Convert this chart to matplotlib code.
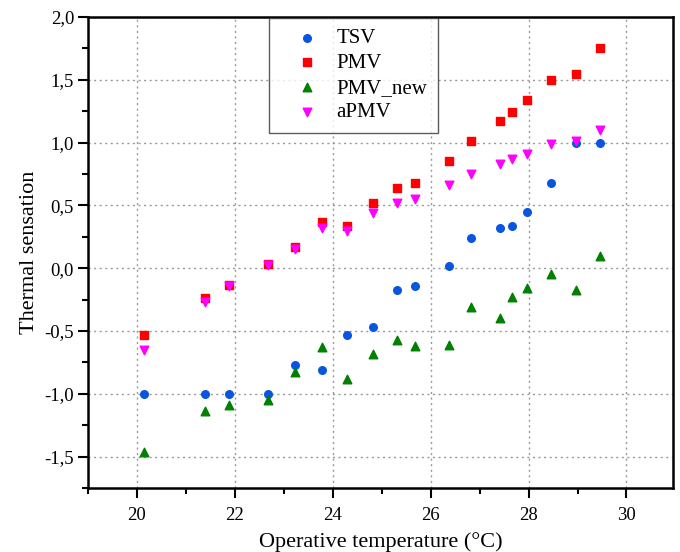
import matplotlib
matplotlib.use("Agg")
import matplotlib.pyplot as plt
from matplotlib.ticker import MultipleLocator, FuncFormatter

plt.rcParams['font.family'] = ['Liberation Serif', 'DejaVu Serif']

# operative temperature (°C) for each measurement group
temp = [20.15, 21.40, 21.88, 22.68, 23.22, 23.78, 24.29, 24.82, 25.32,
        25.67, 26.38, 26.83, 27.42, 27.66, 27.96, 28.46, 28.97, 29.46]

tsv = [-1.00, -1.00, -1.00, -1.00, -0.77, -0.81, -0.53, -0.47, -0.17,
       -0.14, 0.02, 0.24, 0.32, 0.34, 0.45, 0.68, 1.00, 1.00]
pmv = [-0.53, -0.24, -0.13, 0.03, 0.17, 0.37, 0.34, 0.52, 0.64,
       0.68, 0.85, 1.01, 1.17, 1.24, 1.34, 1.50, 1.55, 1.75]
pmv_new = [-1.46, -1.14, -1.09, -1.05, -0.83, -0.63, -0.88, -0.68, -0.57,
           -0.62, -0.61, -0.31, -0.40, -0.23, -0.16, -0.05, -0.17, 0.10]
apmv = [-0.65, -0.27, -0.14, 0.025, 0.15, 0.32, 0.30, 0.44, 0.52,
        0.55, 0.66, 0.75, 0.83, 0.87, 0.91, 0.99, 1.01, 1.10]

fig = plt.figure(figsize=(6.8, 5.52), dpi=100)
ax = fig.add_axes([0.1294, 0.1159, 0.8603, 0.8533])

ax.grid(True, linestyle=(0, (1.5, 2.5)), color='#999999', linewidth=1)
ax.set_axisbelow(True)

ax.scatter(temp, tsv, s=30, marker='o', color='#0a55e0', label='TSV', zorder=3)
ax.scatter(temp, pmv, s=30, marker='s', color='#ff0000', label='PMV', zorder=3)
ax.scatter(temp, pmv_new, s=38, marker='^', color='#008000', label='PMV_new', zorder=3)
ax.scatter(temp, apmv, s=38, marker='v', color='#ff00ff', label='aPMV', zorder=3)

ax.set_xlim(19.0, 30.95)
ax.set_ylim(-1.75, 2.0)
ax.xaxis.set_major_locator(MultipleLocator(2))
ax.xaxis.set_minor_locator(MultipleLocator(1))
ax.yaxis.set_major_locator(MultipleLocator(0.5))
ax.yaxis.set_minor_locator(MultipleLocator(0.25))
ax.yaxis.set_major_formatter(FuncFormatter(lambda v, p: ('%.1f' % v).replace('.', ',')))

ax.tick_params(which='major', direction='out', length=7.5, width=1.5, labelsize=13.5, pad=2.5)
ax.tick_params(axis='x', which='major', pad=6)
ax.tick_params(which='minor', direction='out', length=4.5, width=1.5)
ax.tick_params(top=False, right=False)
for sp in ax.spines.values():
    sp.set_linewidth(1.8)

ax.set_xlabel('Operative temperature (°C)', fontsize=16, labelpad=6)
ax.set_ylabel('Thermal sensation', fontsize=16, labelpad=4)

leg = ax.legend(loc='upper left', bbox_to_anchor=(0.307, 1.0), fontsize=15,
                frameon=True, fancybox=False, edgecolor='#333333',
                handletextpad=0.05, borderpad=0.5, labelspacing=0.25,
                handlelength=2.7, borderaxespad=0.05, scatterpoints=1)
leg.get_frame().set_linewidth(1.0)

fig.savefig('out.png', dpi=100)
